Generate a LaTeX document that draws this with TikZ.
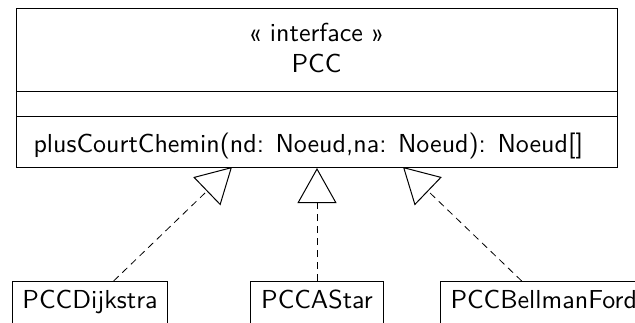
\documentclass[tikz,border=0pt]{standalone}
\usepackage{fontspec}
\setsansfont{lmsans10-regular.otf}
\usetikzlibrary{arrows.meta}
\begin{document}
\begin{tikzpicture}[x=1pt,y=-1pt, line width=1pt,
  font=\sffamily\fontsize{26}{31}\selectfont,
  box/.style={draw, inner sep=0pt, anchor=north west},
  txt/.style={inner sep=0pt, anchor=base},
  impl/.style={draw, anchor=north west, inner xsep=10pt, inner ysep=7pt,
    text height=20pt, text depth=10pt},
  realize/.style={line width=0.8pt, dash pattern=on 7pt off 5pt,
    -{Triangle[open,length=35pt,width=39pt,line width=1pt]}}]
\useasboundingbox (0,0) rectangle (635,322);
\clip (0,0) rectangle (635,322);
% interface PCC
\node[box, minimum width=601pt, minimum height=159pt] (pcc) at (16,8) {};
\coordinate (d1) at (16,91);
\coordinate (d2) at (16,116);
\draw (d1) -- (d1 -| pcc.east);
\draw (d2) -- (d2 -| pcc.east);
\node[txt] (stereo) at (316.5,41) {« interface »};
\node[txt] (name) at (316.5,72) {PCC};
\node[txt, anchor=base west] (op) at (33,152) {plusCourtChemin(nd: Noeud,na: Noeud): Noeud[]};
% implementations
\node[impl, minimum width=155pt] (dij) at (12,281) {PCCDijkstra};
\node[impl, minimum width=133pt] (ast) at (250,281) {PCCAStar};
\node[impl] (bf) at (440,281) {PCCBellmanFord};
% connector ends
\coordinate (s1) at ([xshift=23.5pt]dij.north);
\coordinate (s3) at ([xshift=-22pt]bf.north);
\coordinate (t1) at (232,167);
\coordinate (t2) at (ast.north |- pcc.south);
\coordinate (t3) at (403,167);
\draw[realize] (s1) -- (t1);
\draw[realize] (ast.north) -- (t2);
\draw[realize] (s3) -- (t3);
\end{tikzpicture}
\end{document}
